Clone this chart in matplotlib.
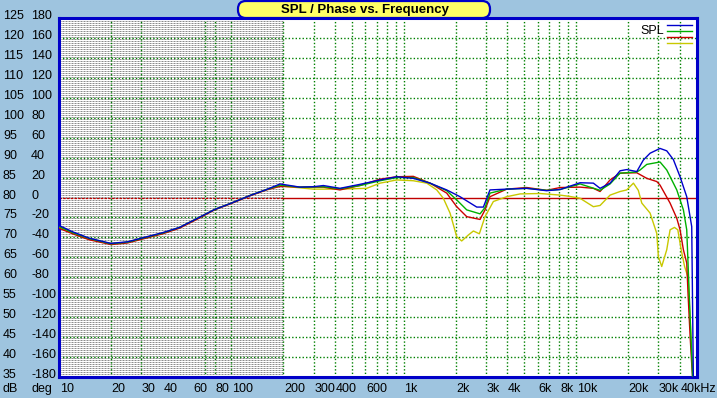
import numpy as np
import matplotlib
matplotlib.use("Agg")
import matplotlib.pyplot as plt
from matplotlib import transforms
from matplotlib.patches import FancyBboxPatch

# ---------------- data ----------------
blue_freq = [10, 12, 15, 20, 25, 30, 40, 50, 65, 80, 100, 130, 160, 192, 250, 299, 342, 427, 558,
             730, 912, 1138, 1423, 1778, 2124, 2656, 2902, 3170, 3966, 5180, 6764, 8086, 10565,
             12618, 13800, 15777, 18031, 19714, 22540, 24620, 26920, 30760, 33640, 36760, 40190,
             43940, 46970, 48000]
blue_db = [73.0, 71.4, 69.8, 68.5, 68.9, 69.8, 71.2, 72.5, 75.0, 77.0, 78.6, 80.6, 82.0, 83.4, 82.6,
           82.7, 83.0, 82.3, 83.3, 84.4, 85.2, 84.8, 83.6, 81.9, 80.2, 77.6, 77.6, 81.9, 82.1, 82.3,
           81.7, 82.0, 83.7, 83.6, 82.3, 83.6, 86.7, 87.0, 86.5, 89.4, 91.1, 92.3, 91.7, 89.5, 85.2,
           80.2, 72.7, 35.0]

green_freq = [10, 12, 15, 20, 25, 30, 40, 50, 65, 80, 100, 130, 160, 192, 250, 342, 427, 558, 730,
              912, 1138, 1423, 1778, 2032, 2323, 2775, 2967, 3170, 3966, 5180, 6764, 8086, 10565,
              13800, 15777, 18031, 22540, 23560, 25760, 30760, 33640, 38460, 42020, 43940, 45500,
              47500]
green_db = [72.7, 71.2, 69.7, 68.4, 68.8, 69.7, 71.1, 72.5, 75.0, 77.0, 78.6, 80.6, 82.0, 83.1, 82.6,
            82.7, 82.2, 83.0, 84.2, 85.0, 85.0, 83.6, 81.7, 79.4, 76.9, 75.9, 77.5, 81.1, 82.1, 82.3,
            81.8, 82.0, 83.4, 81.8, 83.4, 86.1, 86.4, 86.9, 88.3, 88.9, 86.9, 81.9, 76.9, 71.9, 55.0,
            35.0]

red_freq = [10, 12, 15, 20, 25, 30, 40, 50, 65, 80, 100, 130, 160, 192, 250, 342, 427, 558, 730,
            912, 1138, 1423, 1778, 2032, 2323, 2775, 2967, 3170, 3966, 5180, 6764, 8086, 10565,
            12618, 13800, 15777, 18031, 22540, 25760, 29440, 30760, 35170, 38460, 40190, 42020,
            43940, 44700, 46000, 47000, 47500]
red_db = [72.3, 70.9, 69.4, 68.2, 68.6, 69.5, 70.9, 72.3, 74.8, 76.9, 78.5, 80.5, 81.9, 82.8, 82.6,
          82.6, 81.9, 83.0, 84.6, 85.2, 85.3, 83.6, 81.1, 77.7, 75.2, 74.5, 76.9, 80.2, 82.1, 82.5,
          81.8, 82.5, 82.6, 82.3, 81.5, 84.4, 86.1, 86.2, 84.8, 84.0, 83.1, 78.6, 74.8, 71.9, 66.9,
          63.6, 56.0, 45.0, 38.0, 35.0]

yellow_freq = [10, 12, 15, 20, 25, 30, 40, 50, 65, 80, 100, 130, 160, 192, 299, 427, 610, 730, 912,
               1138, 1362, 1556, 1700, 1859, 2032, 2172, 2375, 2540, 2750, 2967, 3317, 3966, 4740,
               6190, 8086, 9120, 10565, 12618, 13800, 15777, 18031, 19714, 21550, 23000, 24100,
               26920, 29440, 30080, 31450, 33640, 35170, 37300, 39000, 40800, 42700, 44700, 46500,
               47800]
yellow_db = [72.5, 71.1, 69.6, 68.4, 68.8, 69.7, 71.1, 72.4, 74.9, 77.0, 78.6, 80.6, 82.0, 82.9, 82.1,
             82.1, 82.3, 83.6, 84.4, 84.2, 83.6, 81.9, 79.8, 76.1, 70.2, 69.1, 70.6, 71.6, 70.9, 75.2,
             79.0, 80.2, 80.9, 81.0, 80.6, 80.3, 79.8, 77.7, 78.0, 80.6, 81.5, 81.9, 83.6, 81.8, 78.6,
             76.1, 71.0, 65.2, 62.7, 66.9, 71.9, 72.5, 71.9, 66.9, 62.7, 60.0, 45.0, 35.0]

db_ticks = list(range(125, 30, -5))
deg_ticks = list(range(180, -181, -20))
freq_ticks = [10, 20, 30, 40, 60, 80, 100, 200, 300, 400, 600, 1000, 2000, 3000, 4000, 6000,
              8000, 10000, 20000, 30000, 40000]
freq_labels = ["10", "20", "30", "40", "60", "80", "100", "200", "300", "400", "600", "1k", "2k",
               "3k", "4k", "6k", "8k", "10k", "20k", "30k", "40kHz"]

# ---------------- style ----------------
W, H = 717, 398
BG = "#9EC4DF"
BLUE_FRAME = "#0000C8"
GRID_GREEN = "#008000"
plt.rcParams["font.family"] = ["Liberation Sans", "DejaVu Sans"]

fig = plt.figure(figsize=(W / 100, H / 100), dpi=100, facecolor=BG)
L, R, T, B = 59, 697, 18, 377
ax = fig.add_axes([L / W, 1 - B / H, (R - L) / W, (B - T) / H])
ax.set_facecolor("white")
ax.set_xscale("log")
ax.set_xlim(10, 50400)
ax.set_ylim(35, 125)
ax.tick_params(which="both", bottom=False, left=False, labelbottom=False, labelleft=False)
ax.xaxis.set_minor_locator(matplotlib.ticker.NullLocator())
for s in ax.spines.values():
    s.set_color(BLUE_FRAME)
    s.set_linewidth(2.2)

# dense grey grid region 10..200 Hz (rows of short grey dashes)
ax.hlines(np.arange(35.25, 125, 0.5), 10, 200, colors="#8C8C8C", linewidth=0.72,
          linestyles=(0, (2, 1)), zorder=0.5)

# green grid
vgrid = [20, 30, 70, 80, 100, 200, 300, 400, 500, 600, 700, 800, 900, 1000, 2000, 3000, 4000,
         5000, 6000, 7000, 8000, 9000, 10000, 20000, 30000, 40000]
for f in vgrid:
    ax.axvline(f, color=GRID_GREEN, linewidth=1.0, linestyle=(0, (1, 1.5)), zorder=1)
for v in range(40, 125, 5):
    if v == 80:
        continue
    ax.axhline(v, color=GRID_GREEN, linewidth=1.0, linestyle=(0, (1, 1.5)), zorder=1)
ax.plot([10, 200], [80, 80], color="#C00000", linewidth=0.9, linestyle=(0, (2, 1)), zorder=2)
ax.plot([200, 50400], [80, 80], color="#C00000", linewidth=1.0, zorder=2)

# curves
ax.plot(yellow_freq, yellow_db, color="#C8C800", linewidth=1.0, zorder=3)
ax.plot(red_freq, red_db, color="#CC0000", linewidth=1.0, zorder=4)
ax.plot(green_freq, green_db, color="#00B000", linewidth=1.0, zorder=5)
ax.plot(blue_freq, blue_db, color="#0000CC", linewidth=1.0, zorder=6)

# y labels
ytr = transforms.blended_transform_factory(fig.transFigure, ax.transData)
for d, g in zip(db_ticks, deg_ticks):
    ax.text(3 / W, d + 0.5, str(d), transform=ytr, fontsize=9, va="center", ha="left")
    ax.text(31 / W, d + 0.5, str(g), transform=ytr, fontsize=9, va="center", ha="left")
fig.text(3 / W, 1 - 389 / H, "dB", fontsize=9, va="center", ha="left")
fig.text(31 / W, 1 - 389 / H, "deg", fontsize=9, va="center", ha="left")

# x labels
xtr = transforms.blended_transform_factory(ax.transData, fig.transFigure)
for f, lab in zip(freq_ticks, freq_labels):
    ax.text(f * 1.01, 1 - 389 / H, lab, transform=xtr, fontsize=9, va="center", ha="left")

# legend
fig.text(652 / W, 1 - 31 / H, "SPL", fontsize=9, va="center", ha="center")
for yy, c in zip([25, 31, 37, 43], ["#0000CC", "#00B000", "#CC0000", "#C8C800"]):
    fig.add_artist(plt.Line2D([667 / W, 692 / W], [1 - yy / H, 1 - yy / H], color=c,
                              linewidth=1.0, transform=fig.transFigure))

# title box
box = FancyBboxPatch((238 / W, 1 - 18 / H), (490 - 238) / W, 17 / H,
                     boxstyle="round,pad=0,rounding_size=0.011",
                     facecolor="#FFFF66", edgecolor=BLUE_FRAME, linewidth=1.6,
                     transform=fig.transFigure, mutation_aspect=W / H)
fig.add_artist(box)
fig.text(365 / W, 1 - 10 / H, "SPL / Phase vs. Frequency", fontsize=9.5, fontweight="bold",
         va="center", ha="center")

fig.savefig("out.png", dpi=100, facecolor=BG)
